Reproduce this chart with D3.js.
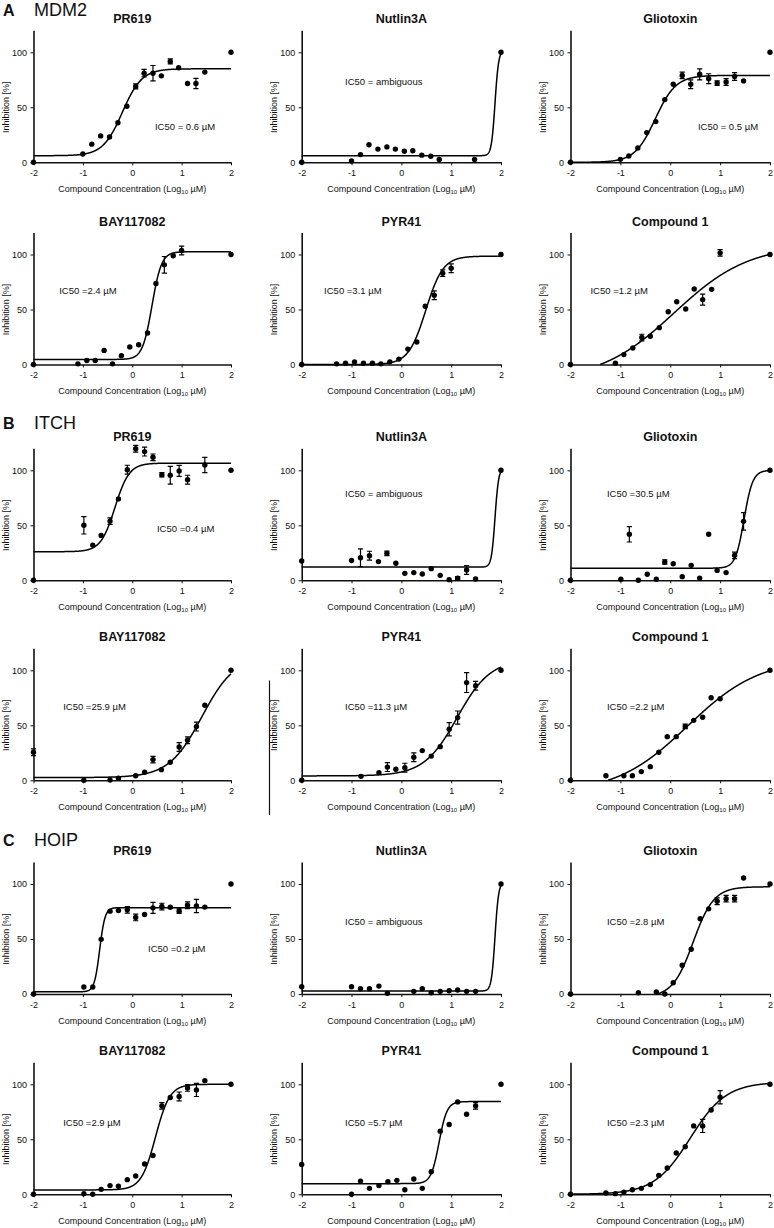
<!DOCTYPE html>
<html><head><meta charset="utf-8">
<script src="https://cdn.jsdelivr.net/npm/d3@7"></script>
<style>
body{margin:0;background:#fff}
svg{display:block}
text{font-family:"Liberation Sans",Arial,Helvetica,sans-serif;fill:#111}
</style>
</head><body>
<svg id="chart" width="774" height="1228"></svg>
<script>
// ---------------- DATA ----------------
const sectionLetters = ["A", "B", "C"];
const enzymes = ["MDM2", "ITCH", "HOIP"];
const compounds = ["PR619", "Nutlin3A", "Gliotoxin", "BAY117082", "PYR41", "Compound 1"];
const xTicks = [-2, -1, 0, 1, 2];
const yTicks = [0, 50, 100];
const xLabel = "Compound Concentration (Log";
const yLabel = "Inhibition [%]";

const ic50Text = [
  "IC50 = 0.6 µM", "IC50 = ambiguous", "IC50 = 0.5 µM", "IC50 =2.4 µM", "IC50 =3.1 µM", "IC50 =1.2 µM",
  "IC50 =0.4 µM", "IC50 = ambiguous", "IC50 =30.5 µM", "IC50 =25.9 µM", "IC50 =11.3 µM", "IC50 =2.2 µM",
  "IC50 =0.2 µM", "IC50 = ambiguous", "IC50 =2.8 µM", "IC50 =2.9 µM", "IC50 =5.7 µM", "IC50 =2.3 µM"
];

// points: [log10 conc, inhibition %, sem (optional)]
const mdm2PR619 = [[-2,0],[-1,7.6],[-0.82,16.5],[-0.64,24],[-0.46,23],[-0.29,36],[-0.11,51],[0.07,69,2.3],[0.24,81,3.4],[0.42,81,7],[0.59,78.6],[0.77,91.7,2.3],[0.94,86],[1.12,71.6],[1.29,71.6,4.7],[1.47,82],[2,100]];
const mdm2Nutlin = [[-2,0],[-1,1.2],[-0.82,7],[-0.65,16],[-0.47,12],[-0.29,14],[-0.12,12],[0.06,10],[0.23,10.5],[0.41,6.5],[0.59,5.5],[0.76,2.5],[1.47,2.5],[2,100]];
const mdm2Glio = [[-2,0],[-1,2.7],[-0.83,5.7],[-0.65,13],[-0.47,27],[-0.29,37],[-0.11,57],[0.06,71],[0.24,79,3],[0.41,71,4],[0.59,80,5],[0.77,76,4.5],[0.94,72,2],[1.12,73,3],[1.29,78,3.5],[1.47,74],[2,100]];
const mdm2BAY = [[-2,0],[-1.1,0.6],[-0.92,3.6],[-0.75,3.6],[-0.57,12.8],[-0.4,0.6],[-0.22,7.9],[-0.05,16],[0.13,18],[0.31,28.6],[0.48,73.6],[0.65,90.6,7.6],[0.83,98.8],[1.0,103.6,4],[2,100]];
const mdm2PYR = [[-2,0],[-1.3,0.6],[-1.12,1.2],[-0.94,2.4],[-0.76,1.2],[-0.58,1.2],[-0.41,0.6],[-0.23,2.4],[-0.05,4.9],[0.13,14],[0.31,20.4],[0.48,53],[0.66,63,4],[0.83,83,3],[1.0,87.5,4],[2,100]];
const mdm2Cmpd1 = [[-2,0],[-1.1,1.2],[-0.93,9],[-0.75,15],[-0.57,24.5,3],[-0.4,25.7],[-0.22,33.5],[-0.04,48],[0.13,57],[0.31,50.5],[0.48,68.6],[0.65,59,5],[0.83,68.3],[1.0,101.5,3],[2,100]];

const itchPR619 = [[-2,0],[-0.98,50,7.9],[-0.8,32],[-0.63,40.8],[-0.45,53.8,3],[-0.28,74],[-0.1,100.6,4],[0.07,119.6,3],[0.25,117,4],[0.42,111.8,3],[0.6,96,2],[0.77,95.5,8],[0.95,99.4,5],[1.12,91.5,4],[1.47,104.8,7],[2,100]];
const itchNutlin = [[-2,17.5],[-1,18],[-0.82,20.5,8],[-0.64,22.4,4],[-0.46,17],[-0.29,24.5,2],[-0.11,15.5],[0.07,6.3],[0.25,7],[0.42,5.7],[0.6,10.6],[0.78,4.5],[0.96,0.6],[1.13,1.8,1.5],[1.31,9.4,4],[1.49,1.2],[2,100]];
const itchGlio = [[-2,0],[-0.99,0.9],[-0.82,41.8,7],[-0.64,0],[-0.46,5.5],[-0.28,0.9],[-0.11,16.7,2],[0.06,15],[0.24,3.3],[0.42,13.6],[0.59,2],[0.77,41.8],[0.94,9],[1.12,7],[1.29,22.7,3],[1.47,53.6,8],[2,100]];
const itchBAY = [[-2,25.5,3],[-0.98,0],[-0.45,0.3],[-0.28,1.8],[0.07,4.2],[0.25,7.3],[0.42,18.8,3],[0.59,9.7],[0.77,16.4],[0.95,30.3,4],[1.12,36.4,3],[1.3,48.8,4],[1.47,68.2],[2,100]];
const itchPYR = [[-2,0],[-0.81,3.6],[-0.45,7],[-0.28,12,4],[-0.11,10],[0.07,11.5,4],[0.25,21,4],[0.42,27],[0.6,22],[0.78,30.6],[0.96,46.4,6],[1.13,57,6],[1.31,88.8,9],[1.49,86,4],[2,100]];
const itchCmpd1 = [[-2,0],[-1.29,4.2],[-0.93,4.2],[-0.76,4.2],[-0.58,7.9],[-0.4,12.4],[-0.23,25.5],[-0.06,39.7],[0.12,39.7],[0.3,49,2],[0.47,54.5],[0.65,57.3],[0.82,75],[1.0,74.2],[2,100]];

const hoipPR619 = [[-2,0],[-0.98,6.3],[-0.8,6.3],[-0.63,49.7],[-0.45,75.3],[-0.28,75.9],[-0.1,76.5,3],[0.07,69.6,3],[0.25,72.3],[0.42,78.3,5],[0.6,79.5,3],[0.77,78.9],[0.95,75.3,2],[1.12,80.7,3],[1.3,80,6],[1.47,79],[2,100]];
const hoipNutlin = [[-2,6.6],[-1,6.6],[-0.82,4.8],[-0.64,4.8],[-0.45,7.2],[-0.28,0.6],[0.25,2.4],[0.42,4.8],[0.6,1.2],[0.78,2.4],[0.96,3],[1.13,3.6],[1.31,2.4],[1.49,2.4],[2,100]];
const hoipGlio = [[-2,0],[-0.64,1.2],[-0.28,1.8],[-0.11,0],[0.06,10.2],[0.24,26.2],[0.42,40.7],[0.6,68.4],[0.77,77.4],[0.94,84.3,3],[1.12,86.7,3],[1.29,86.7,3],[1.47,105.4],[2,100]];
const hoipBAY = [[-2,0],[-0.98,0.6],[-0.8,0],[-0.63,4.5],[-0.45,7.9],[-0.28,7.3],[-0.1,13.3],[0.07,16.6],[0.25,27.5],[0.42,35.3],[0.6,80.4,3],[0.77,88],[0.95,89,4],[1.12,96.7,3],[1.3,94.9,6],[1.47,103.3],[2,100]];
const hoipPYR = [[-2,27.2],[-1,0],[-0.82,12],[-0.64,5.4],[-0.45,7.9],[-0.27,11.5],[-0.09,12.7],[0.07,4.2],[0.25,13.9],[0.42,5.4],[0.6,20.5],[0.78,57.4],[0.96,63.4],[1.13,84],[1.31,72.8],[1.49,80.4,3],[2,100]];
const hoipCmpd1 = [[-2,0],[-1.29,1.2],[-1.1,0.6],[-0.93,1.8],[-0.76,4.2],[-0.58,5.4],[-0.4,8.8],[-0.23,17.2],[-0.06,23.9],[0.12,37.5],[0.3,43.2],[0.47,62.2],[0.65,62.2,6],[0.82,76.7],[1.0,88.2,6],[2,100]];

const panelPoints = [
  mdm2PR619, mdm2Nutlin, mdm2Glio, mdm2BAY, mdm2PYR, mdm2Cmpd1,
  itchPR619, itchNutlin, itchGlio, itchBAY, itchPYR, itchCmpd1,
  hoipPR619, hoipNutlin, hoipGlio, hoipBAY, hoipPYR, hoipCmpd1
];

// four-parameter logistic fit parameters
const fitBottom = [6, 6, 0, 4.6, 0, -15,   26, 12, 11, 2.5, 4, -12.2,   2, 2.7, -3, 4, 9.7, 0];
const fitTop    = [85, 102, 79, 102.5, 98.5, 109,   106.5, 102, 100, 113, 110, 111,   78.5, 102, 97.5, 100, 84.3, 102];
const fitLogIC50= [-0.2, 1.88, -0.3, 0.4, 0.49, 0.08,   -0.35, 1.88, 1.48, 1.41, 1.12, 0.35,   -0.66, 1.88, 0.46, 0.47, 0.756, 0.4];
const fitHill   = [2.2, 12, 2.1, 4.5, 2.5, 0.58,   3, 12, 5, 1.3, 1.3, 0.6,   8, 12, 2.1, 3, 5.4, 1.2];

// ---------------- LAYOUT ----------------
const colX0 = [33.5, 301.7, 570.5];
const colX1 = [231, 501, 770];
const rowY0 = [162.3, 364.5, 580.3, 780.3, 994, 1194.3];
const plotH = 132;             // height of 0..120 range
const sectionBaseline = [15.5, 428.5, 845.5];
// IC50 annotation anchor in data coordinates [x, y]
const ic50Pos = [
  [0.46,32.7],[-1.13,73],[0.556,32.7],[-1.48,67],[-1.55,67],[-1.6,67],
  [0.5,46.8],[-1.13,79],[-1.27,79],[-1.4,66.6],[-1.13,66.6],[-1.27,66.6],
  [0.32,41.6],[-1.13,65.3],[-1.27,65.3],[-1.4,65.5],[-1.13,65.5],[-1.27,65.5]
];

const svg = d3.select("#chart");
const fourPL = (x, i) => fitBottom[i] + (fitTop[i] - fitBottom[i]) / (1 + Math.pow(10, fitHill[i] * (fitLogIC50[i] - x)));

// section headings
sectionLetters.forEach((L, s) => {
  const g = svg.append("g");
  g.append("text").attr("x", 3).attr("y", sectionBaseline[s])
    .attr("font-size", 16).attr("font-weight", "bold").text(L);
  g.append("text").attr("x", 34).attr("y", sectionBaseline[s])
    .attr("font-size", 18).text(enzymes[s]);
});

const samples = d3.range(0, 801).map(i => -2 + i * 0.005);

for (let p = 0; p < 18; p++) {
  const s = Math.floor(p / 6), k = p % 6;
  const row = s * 2 + Math.floor(k / 3), col = k % 3;
  const x = d3.scaleLinear().domain([-2, 2]).range([colX0[col], colX1[col]]);
  const y = d3.scaleLinear().domain([0, 120]).range([rowY0[row], rowY0[row] - plotH]);
  const g = svg.append("g");

  // axes
  const xa = g.append("g").attr("transform", `translate(0,${y(0)})`)
    .call(d3.axisBottom(x).tickValues(xTicks).tickSize(3).tickSizeOuter(0).tickPadding(4.5).tickFormat(d => String(d)));
  const ya = g.append("g").attr("transform", `translate(${x(-2)},0)`)
    .call(d3.axisLeft(y).tickValues(yTicks).tickSize(3).tickSizeOuter(0).tickPadding(3.5).tickFormat(d => String(d)));
  [xa, ya].forEach(a => {
    a.select(".domain").attr("stroke", "#111").attr("stroke-width", 1.6);
    a.selectAll(".tick line").attr("stroke", "#111").attr("stroke-width", 1);
    a.selectAll(".tick text").attr("font-size", 9).attr("fill", "#111")
      .attr("font-family", '"Liberation Sans",Arial,sans-serif');
  });

  // axis titles
  const xl = g.append("text").attr("x", (x(-2) + x(2)) / 2).attr("y", y(0) + 29.5)
    .attr("text-anchor", "middle").attr("font-size", 9);
  xl.append("tspan").text(xLabel);
  xl.append("tspan").attr("font-size", 6).attr("dy", 2).text("10");
  xl.append("tspan").attr("dy", -2).text(" µM)");

  g.append("text").attr("transform", `translate(${x(-2) - 24.5},${y(50)}) rotate(-90)`)
    .attr("text-anchor", "middle").attr("font-size", 9).text(yLabel);

  // panel title
  g.append("text").attr("x", (x(-2) + x(2)) / 2).attr("y", y(120) - 7)
    .attr("text-anchor", "middle").attr("font-size", 12.5).attr("font-weight", "bold").text(compounds[k]);

  // fitted curve
  const line = d3.line()
    .defined(d => d[1] >= 0 && d[1] <= 122)
    .x(d => x(d[0])).y(d => y(d[1]));
  g.append("path").datum(samples.map(v => [v, fourPL(v, p)]))
    .attr("d", line).attr("fill", "none").attr("stroke", "#000").attr("stroke-width", 1.5);

  // error bars
  const eb = panelPoints[p].filter(d => d[2]);
  g.selectAll(".eb").data(eb).enter().append("path")
    .attr("d", d => {
      const cx = x(d[0]), t = y(d[1] + d[2]), b = y(d[1] - d[2]);
      return `M${cx},${t}V${b}M${cx - 2.6},${t}H${cx + 2.6}M${cx - 2.6},${b}H${cx + 2.6}`;
    })
    .attr("fill", "none").attr("stroke", "#000").attr("stroke-width", 1.2);

  // points
  g.selectAll(".pt").data(panelPoints[p]).enter().append("circle")
    .attr("cx", d => x(d[0])).attr("cy", d => y(d[1])).attr("r", 2.7).attr("fill", "#000");

  // IC50 annotation
  g.append("text").attr("x", x(ic50Pos[p][0])).attr("y", y(ic50Pos[p][1]) + 3.3)
    .attr("font-size", 9.5).text(ic50Text[p]);
}

// stray vertical rule present in the original figure (ITCH / PYR41 panel)
svg.append("line").attr("x1", 269.5).attr("x2", 269.5).attr("y1", 680.5).attr("y2", 815)
  .attr("stroke", "#111").attr("stroke-width", 1.2);
</script>
</body></html>
